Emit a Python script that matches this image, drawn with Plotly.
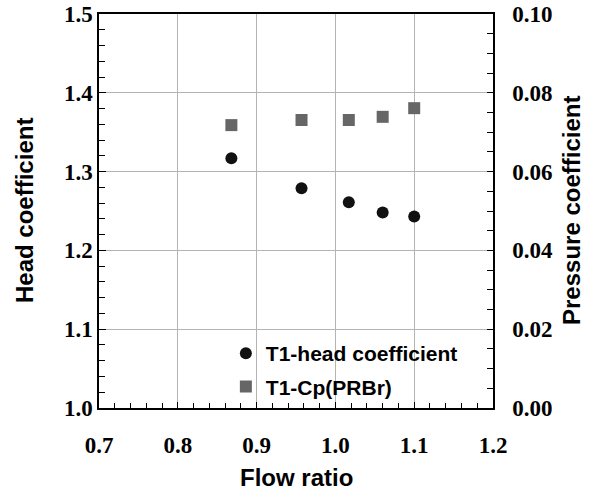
import plotly.graph_objects as go

flow_ratio = [0.868, 0.957, 1.017, 1.060, 1.100]
head_coef = [1.317, 1.279, 1.261, 1.248, 1.243]
cp_prbr = [0.0718, 0.0731, 0.0731, 0.0739, 0.0761]

x_ticks = [0.7, 0.8, 0.9, 1.0, 1.1, 1.2]
y_ticks = [1.0, 1.1, 1.2, 1.3, 1.4, 1.5]
y2_ticks = [0.00, 0.02, 0.04, 0.06, 0.08, 0.10]

SERIF = "Liberation Serif"
SANS = "Liberation Sans"
tickfont = dict(family=SERIF, size=23, color="black", weight="bold")
titlefont = dict(family=SANS, size=24, color="black", weight="bold")

fig = go.Figure()
fig.add_trace(go.Scatter(
    x=flow_ratio, y=head_coef, mode="markers", name="T1-head coefficient",
    marker=dict(symbol="circle", size=12, color="#111111"),
    legendgroup="a",
))
fig.add_trace(go.Scatter(
    x=flow_ratio, y=cp_prbr, mode="markers", name="T1-Cp(PRBr)",
    marker=dict(symbol="square", size=12, color="#666666"),
    yaxis="y2", legendgroup="b",
))

fig.update_layout(
    template="none",
    width=591, height=492,
    margin=dict(l=99, r=98, t=14, b=84, autoexpand=False),
    paper_bgcolor="white", plot_bgcolor="white",
    showlegend=True,
    legend=dict(x=0.322, y=0.19, xanchor="left", yanchor="top",
                bgcolor="rgba(0,0,0,0)", borderwidth=0,
                font=dict(family=SANS, size=21, color="black", weight="bold"),
                tracegroupgap=3, traceorder="grouped"),
    xaxis=dict(
        range=[0.7, 1.2], tickvals=x_ticks, tickformat=".1f", automargin=False,
        showline=True, linecolor="black", linewidth=1.5, mirror=True,
        ticks="inside", ticklen=6, tickcolor="black", tickwidth=1,
        minor=dict(ticks="inside", dtick=0.02, ticklen=5, tickcolor="black", showgrid=False),
        showgrid=True, gridcolor="#b4b4b4", gridwidth=1,
        zeroline=False, tickfont=tickfont, ticklabelstandoff=16,
    ),
    yaxis=dict(
        range=[1.0, 1.5], tickvals=y_ticks, tickformat=".1f", automargin=False,
        showline=True, linecolor="black", linewidth=1.5,
        ticks="inside", ticklen=7, tickcolor="black", tickwidth=1,
        minor=dict(ticks="inside", dtick=0.02, ticklen=6, tickcolor="black", showgrid=False),
        showgrid=True, gridcolor="#b4b4b4", gridwidth=1,
        zeroline=False, tickfont=tickfont,
    ),
    yaxis2=dict(
        range=[0.0, 0.1], tickvals=y2_ticks, tickformat=".2f", automargin=False,
        overlaying="y", side="right",
        showline=True, linecolor="black", linewidth=1.5,
        ticks="inside", ticklen=6, tickcolor="black", tickwidth=1,
        minor=dict(ticks="inside", dtick=0.005, ticklen=6, tickcolor="black", showgrid=False),
        showgrid=False, zeroline=False, tickfont=tickfont, ticklabelstandoff=13,
    ),
    annotations=[
        dict(text="Flow ratio", xref="paper", yref="paper", x=0.5, y=0, yshift=-69,
             xanchor="center", yanchor="middle", showarrow=False, font=titlefont),
        dict(text="Head coefficient", xref="paper", yref="paper", x=0, y=0.5, xshift=-75,
             xanchor="center", yanchor="middle", showarrow=False, textangle=-90, font=titlefont),
        dict(text="Pressure coefficient", xref="paper", yref="paper", x=1, y=0.5, xshift=78,
             xanchor="center", yanchor="middle", showarrow=False, textangle=-90, font=titlefont),
    ],
)

fig.write_html("out.html")
